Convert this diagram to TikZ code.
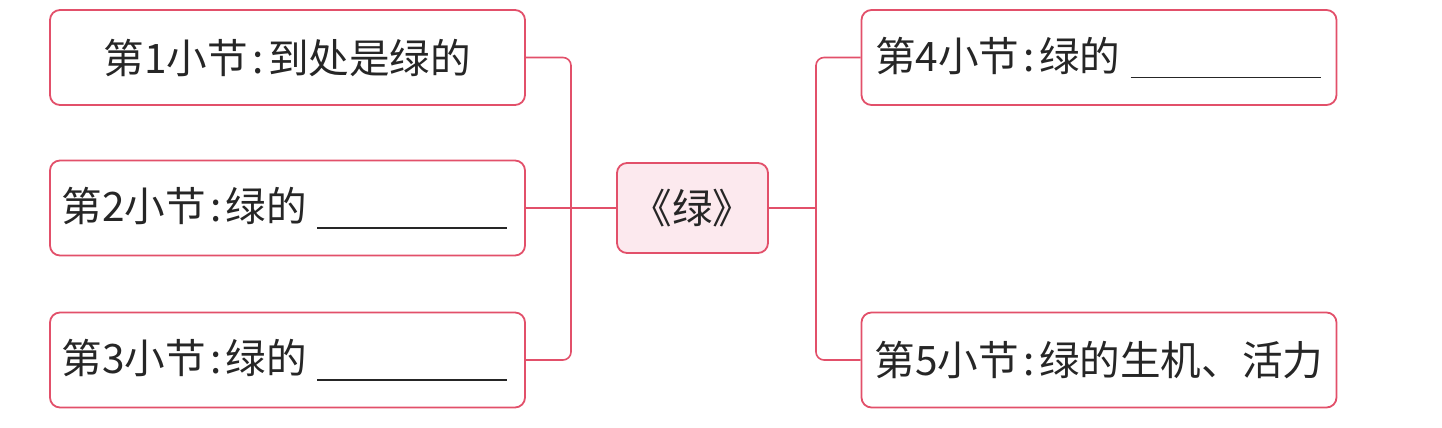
\documentclass[tikz,border=0pt]{standalone}
\usepackage{fontspec}
\setmainfont{Noto Sans CJK SC}
\usetikzlibrary{positioning}
\definecolor{lred}{HTML}{E2506A}
\definecolor{lpink}{HTML}{FCE9EE}
\tikzset{
  txt/.style={font=\fontsize{20.3pt}{24pt}\selectfont, text=black!85},
  box/.style={txt, draw=lred, line width=0.9pt, rounded corners=5pt, minimum width=237.5pt, minimum height=47.5pt, inner sep=0pt},
  ctr/.style={txt, draw=lred, line width=0.9pt, rounded corners=5pt, fill=lpink, minimum width=75.5pt, minimum height=45pt, inner sep=0pt},
  lbl/.style={txt, anchor=west, inner sep=0pt},
  link/.style={draw=lred, line width=0.8pt, rounded corners=4pt},
}
\newcommand{\blank}{\hspace{5pt}\rule[-3.6pt]{95pt}{0.8pt}}
\newcommand{\cln}{\makebox[10pt]{:}}
\begin{document}
\begin{tikzpicture}[x=0.5pt,y=-0.5pt]
\useasboundingbox (0,0) rectangle (1442,428);
\node[box] (b1) at (287.5,57.5) {第1小节\cln 到处是绿的};
\node[box] (b2) at (287.5,208) {};
\node[lbl] (t2) at ([xshift=6pt]b2.west) {第2小节\cln 绿的\blank};
\node[box] (b3) at (287.5,360) {};
\node[lbl] (t3) at ([xshift=6pt]b3.west) {第3小节\cln 绿的\blank};
\node[ctr] (c) at (692.5,208) {《绿》};
\node[box] (b4) at (1099,57.5) {};
\node[lbl] (t4) at ([xshift=7pt]b4.west) {第4小节\cln 绿的\blank};
\node[box] (b5) at (1099,360) {第5小节\cln 绿的生机、活力};
\coordinate (lx) at (571,0);
\coordinate (rx) at (816,0);
\draw[link] (b1.east) -- (b1.east -| lx) -- (b3.east -| lx) -- (b3.east);
\draw[link] (b2.east) -- (b2.east -| c.west);
\draw[link] (c.east) -- (c.east -| rx);
\draw[link] (b4.west) -- (b4.west -| rx) -- (b5.west -| rx) -- (b5.west);
\end{tikzpicture}
\end{document}
